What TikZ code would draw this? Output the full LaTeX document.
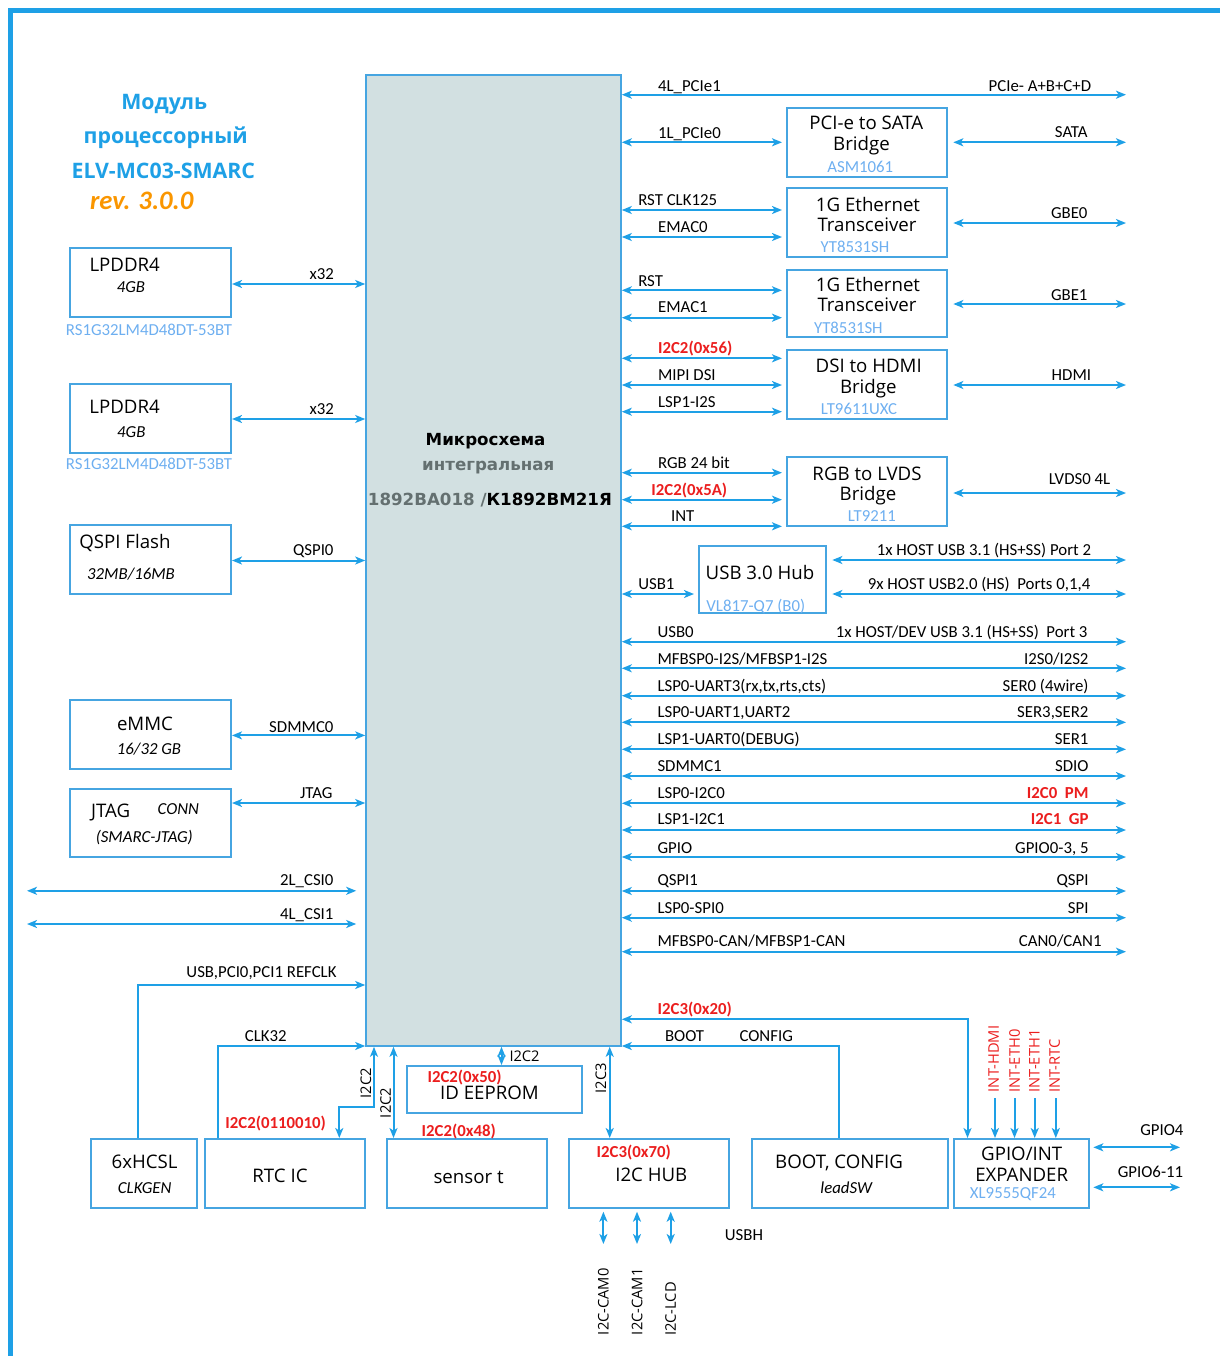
\documentclass[tikz,border=0pt]{standalone}
\usepackage{fontspec}
\setmainfont{Carlito}
\newfontfamily\boxfont{Open Sans}
\newfontfamily\chipfont{DejaVu Sans}
\usetikzlibrary{arrows.meta,fit}

\definecolor{lblue}{RGB}{30,160,230}
\definecolor{bblue}{RGB}{70,165,225}
\definecolor{pblue}{RGB}{110,175,240}
\definecolor{lred}{RGB}{235,30,30}
\definecolor{lorange}{RGB}{250,150,0}
\definecolor{chipfill}{RGB}{210,224,225}
\definecolor{chipgray}{RGB}{100,112,112}

\tikzset{every picture/.style={line width=0.75pt},
  bus/.style={draw=lblue, line width=1.5pt, {Stealth[length=7.5pt,width=6pt,inset=2pt]}-{Stealth[length=7.5pt,width=6pt,inset=2pt]}},
  feed/.style={draw=lblue, line width=1.5pt, -{Stealth[length=7.5pt,width=6pt,inset=2pt]}},
  blk/.style={draw=bblue, line width=1.5pt, inner sep=0pt},
  chipbox/.style={draw=bblue, fill=chipfill, line width=1.2pt, inner sep=0pt},
  lbl/.style={inner sep=0pt, text height=8.1pt, text depth=0pt, font=\fontsize{12.6}{15}\selectfont},
  redlbl/.style={lbl, text=lred, font=\fontsize{12.6}{15}\selectfont\bfseries},
  sub/.style={lbl, font=\fontsize{12.6}{15}\selectfont\itshape},
  part/.style={lbl, text=pblue},
  ttl/.style={inner sep=0pt, text height=10pt, text depth=0pt, font=\boxfont\fontsize{14}{16}\selectfont},
  vlbl/.style={inner sep=0pt, rotate=90, text height=7.9pt, text depth=0pt, font=\boxfont\fontsize{11}{13}\selectfont},
  chiptxt/.style={inner sep=0pt, font=\chipfont\bfseries\fontsize{12.5}{15}\selectfont},
  head/.style={inner sep=0pt, text=lblue, font=\boxfont\bfseries\fontsize{16}{19}\selectfont},
}

\begin{document}
\begin{tikzpicture}[x=0.75pt,y=0.75pt,yscale=-1]
\useasboundingbox (0,0) rectangle (1220,1356);

%Frame
\draw [color=lblue, line width=3.75pt] (10,1356) -- (10,10) -- (1220,10) ;

%Title
\node [head] (hd1) at (164.3,104) {Модуль};
\node [head] (hd2) at (165.7,137.7) {процессорный};
\node [head] (hd3) at (163.3,171) {ELV-MC03-SMARC};
\node [inner sep=0pt, text=lorange, font=\fontsize{20}{24}\selectfont\bfseries\itshape] (hd4) at (141.7,201) {rev. 3.0.0};

%Chip
\node [chipbox, fit={(366,75) (621,1046)}] (chip) {};
\node [chiptxt] (chip1) at (485.6,440.7) {Микросхема};
\node [chiptxt, text=chipgray] (chip2) at (488.3,467.9) {интегральная};
\node [chiptxt] (chip3) at (489.9,500.4) {\textcolor{chipgray}{1892ВА018 /}К1892ВМ21Я};

%Left blocks
\node [blk, fit={(70,248) (231,317)}] (ddr1) {};
\node [ttl] (ddr1a) at (124.7,265) {LPDDR4};
\node [sub] (ddr1b) at (131,287) {4GB};
\node [part] (ddr1c) at (149,330) {RS1G32LM4D48DT-53BT};

\node [blk, fit={(70,384) (231,453)}] (ddr2) {};
\node [ttl] (ddr2a) at (124.6,406.6) {LPDDR4};
\node [sub] (ddr2b) at (131.3,432.3) {4GB};
\node [part] (ddr2c) at (149,464) {RS1G32LM4D48DT-53BT};

\node [blk, fit={(70,525) (231,594)}] (flash) {};
\node [ttl] (flasha) at (125,541.4) {QSPI Flash};
\node [sub] (flashb) at (131,574) {32MB/16MB};

\node [blk, fit={(70,700) (231,769)}] (emmc) {};
\node [ttl] (emmca) at (145,724) {eMMC};
\node [sub] (emmcb) at (149,749) {16/32 GB};

\node [blk, fit={(70,789) (231,857)}] (jtag) {};
\node [ttl] (jtaga) at (110.7,811) {JTAG};
\node [sub] (jtagb) at (178.3,809) {CONN};
\node [sub] (jtagc) at (144.3,837) {(SMARC-JTAG)};

%Left links
\draw [bus] (ddr1.east |- 0,284) -- (chip.west |- 0,284) ;
\node [lbl, anchor=east] (l1) at (334.5,274) {x32};
\draw [bus] (ddr2.east |- 0,419) -- (chip.west |- 0,419) ;
\node [lbl, anchor=east] (l2) at (334.5,408.6) {x32};
\draw [bus] (flash.east |- 0,560.5) -- (chip.west |- 0,560.5) ;
\node [lbl, anchor=east] (l3) at (334,550) {QSPI0};
\draw [bus] (emmc.east |- 0,735.4) -- (chip.west |- 0,735.4) ;
\node [lbl, anchor=east] (l4) at (334,727) {SDMMC0};
\draw [bus] (jtag.east |- 0,803) -- (chip.west |- 0,803) ;
\node [lbl, anchor=east] (l5) at (333,793) {JTAG};

\coordinate (lft) at (27,0);
\draw [bus] (lft |- 0,890.8) -- ([xshift=-6.75pt]chip.west |- 0,890.8) ;
\node [lbl, anchor=east] (l6) at (334,880) {2L\_CSI0};
\draw [bus] (lft |- 0,924) -- ([xshift=-6.75pt]chip.west |- 0,924) ;
\node [lbl, anchor=east] (l7) at (334,914) {4L\_CSI1};

%Right blocks
\node [blk, fit={(787,108) (947,177)}] (sata) {};
\node [ttl] (sataa) at (866.3,122.7) {PCI-e to SATA};
\node [ttl] (satab) at (861.5,144) {Bridge};
\node [part] (satac) at (860.3,166.7) {ASM1061};

\node [blk, fit={(787,188) (947,257)}] (eth0) {};
\node [ttl] (eth0a) at (868,205) {1G Ethernet};
\node [ttl] (eth0b) at (867,225) {Transceiver};
\node [part] (eth0c) at (855,246.7) {YT8531SH};

\node [blk, fit={(787,270) (947,337)}] (eth1) {};
\node [ttl] (eth1a) at (868,285) {1G Ethernet};
\node [ttl] (eth1b) at (867,305) {Transceiver};
\node [part] (eth1c) at (848.4,328.3) {YT8531SH};

\node [blk, fit={(787,350) (947,419)}] (hdmi) {};
\node [ttl] (hdmia) at (868.7,365.7) {DSI to HDMI};
\node [ttl] (hdmib) at (868.3,386.7) {Bridge};
\node [part] (hdmic) at (859,409) {LT9611UXC};

\node [blk, fit={(787,457) (947,526)}] (lvds) {};
\node [ttl] (lvdsa) at (867,474) {RGB to LVDS};
\node [ttl] (lvdsb) at (868,494) {Bridge};
\node [part] (lvdsc) at (871.9,515.7) {LT9211};

\node [blk, fit={(699,546) (826,613)}] (usbhub) {};
\node [ttl] (usbhuba) at (760,573.3) {USB 3.0 Hub};
\node [part] (usbhubb) at (755.8,605.7) {VL817-Q7 (B0)};

%Right links to blocks
\coordinate (rgt) at (1126,0);
\draw [bus] (chip.east |- 0,94.7) -- (rgt |- 0,94.7) ;
\node [lbl, anchor=west] (r1) at (657.6,86) {4L\_PCIe1};
\node [lbl, anchor=east] (r1b) at (1091.6,86) {PCIe- A+B+C+D};

\draw [bus] (chip.east |- 0,142.3) -- ([xshift=-3pt]sata.west |- 0,142.3) ;
\node [lbl, anchor=west] (r2) at (657.6,132.7) {1L\_PCIe0};
\draw [bus] ([xshift=4pt]sata.east |- 0,142.3) -- (rgt |- 0,142.3) ;
\node [lbl, anchor=east] (r2b) at (1088,132) {SATA};

\draw [bus] (chip.east |- 0,210) -- ([xshift=-3pt]eth0.west |- 0,210) ;
\node [lbl, anchor=west] (r3) at (637.8,200) {RST CLK125};
\draw [bus] (chip.east |- 0,237) -- ([xshift=-3pt]eth0.west |- 0,237) ;
\node [lbl, anchor=west] (r4) at (657.6,226.7) {EMAC0};
\draw [bus] ([xshift=4pt]eth0.east |- 0,223) -- (rgt |- 0,223) ;
\node [lbl, anchor=east] (r4b) at (1088,212.7) {GBE0};

\draw [bus] (chip.east |- 0,290.3) -- ([xshift=-3pt]eth1.west |- 0,290.3) ;
\node [lbl, anchor=west] (r5) at (637.8,280.7) {RST};
\draw [bus] (chip.east |- 0,317.7) -- ([xshift=-3pt]eth1.west |- 0,317.7) ;
\node [lbl, anchor=west] (r6) at (657.6,307) {EMAC1};
\draw [bus] ([xshift=4pt]eth1.east |- 0,304) -- (rgt |- 0,304) ;
\node [lbl, anchor=east] (r6b) at (1088,294.7) {GBE1};

\draw [bus] (chip.east |- 0,358.3) -- ([xshift=-3pt]hdmi.west |- 0,358.3) ;
\node [redlbl, anchor=west] (r7) at (657.6,348.3) {I2C2(0x56)};
\draw [bus] (chip.east |- 0,385) -- ([xshift=-3pt]hdmi.west |- 0,385) ;
\node [lbl, anchor=west] (r8) at (657.6,375) {MIPI DSI};
\draw [bus] (chip.east |- 0,411.7) -- ([xshift=-3pt]hdmi.west |- 0,411.7) ;
\node [lbl, anchor=west] (r9) at (657.6,401.7) {LSP1-I2S};
\draw [bus] ([xshift=4pt]hdmi.east |- 0,385) -- (rgt |- 0,385) ;
\node [lbl, anchor=east] (r9b) at (1091.6,375) {HDMI};

\draw [bus] (chip.east |- 0,472.7) -- ([xshift=-3pt]lvds.west |- 0,472.7) ;
\node [lbl, anchor=west] (r10) at (657.6,462.7) {RGB 24 bit};
\draw [bus] (chip.east |- 0,499.7) -- ([xshift=-3pt]lvds.west |- 0,499.7) ;
\node [redlbl, anchor=west] (r11) at (650.9,490) {I2C2(0x5A)};
\draw [bus] (chip.east |- 0,526.3) -- ([xshift=-3pt]lvds.west |- 0,526.3) ;
\node [lbl] (r12) at (682.7,515.7) {INT};
\draw [bus] ([xshift=4pt]lvds.east |- 0,493) -- (rgt |- 0,493) ;
\node [lbl, anchor=east] (r12b) at (1110.7,479.3) {LVDS0 4L};

\draw [bus] (chip.east |- 0,594) -- ([xshift=-3pt]usbhub.west |- 0,594) ;
\node [lbl, anchor=west] (r13) at (637.8,584.3) {USB1};
\draw [bus] ([xshift=4pt]usbhub.east |- 0,560) -- (rgt |- 0,560) ;
\node [lbl, anchor=east] (r13b) at (1091.6,550) {1x HOST USB 3.1 (HS+SS) Port 2};
\draw [bus] ([xshift=4pt]usbhub.east |- 0,594) -- (rgt |- 0,594) ;
\node [lbl, anchor=east] (r13c) at (1090.8,584.3) {9x HOST USB2.0 (HS)\ \ Ports 0,1,4};

%Right direct lines
\draw [bus] (chip.east |- 0,641.7) -- (rgt |- 0,641.7) ;
\node [lbl, anchor=west] (s1) at (657,631.7) {USB0};
\node [lbl, anchor=east] (s1b) at (1088,631.7) {1x HOST/DEV USB 3.1 (HS+SS)\ \ Port 3};
\draw [bus] (chip.east |- 0,668.3) -- (rgt |- 0,668.3) ;
\node [lbl, anchor=west] (s2) at (657,659) {MFBSP0-I2S/MFBSP1-I2S};
\node [lbl, anchor=east] (s2b) at (1089,659) {I2S0/I2S2};
\draw [bus] (chip.east |- 0,695.7) -- (rgt |- 0,695.7) ;
\node [lbl, anchor=west] (s3) at (657,686) {LSP0-UART3(rx,tx,rts,cts)};
\node [lbl, anchor=east] (s3b) at (1089,686) {SER0 (4wire)};
\draw [bus] (chip.east |- 0,722.3) -- (rgt |- 0,722.3) ;
\node [lbl, anchor=west] (s4) at (657,712.3) {LSP0-UART1,UART2};
\node [lbl, anchor=east] (s4b) at (1089,712.3) {SER3,SER2};
\draw [bus] (chip.east |- 0,749.3) -- (rgt |- 0,749.3) ;
\node [lbl, anchor=west] (s5) at (657,739.3) {LSP1-UART0(DEBUG)};
\node [lbl, anchor=east] (s5b) at (1089,739.3) {SER1};
\draw [bus] (chip.east |- 0,776) -- (rgt |- 0,776) ;
\node [lbl, anchor=west] (s6) at (657,766) {SDMMC1};
\node [lbl, anchor=east] (s6b) at (1089,766) {SDIO};
\draw [bus] (chip.east |- 0,803.3) -- (rgt |- 0,803.3) ;
\node [lbl, anchor=west] (s7) at (657,792.7) {LSP0-I2C0};
\node [redlbl, anchor=east] (s7b) at (1089,792.7) {I2C0\ \ PM};
\draw [bus] (chip.east |- 0,830) -- (rgt |- 0,830) ;
\node [lbl, anchor=west] (s8) at (657,819.3) {LSP1-I2C1};
\node [redlbl, anchor=east] (s8b) at (1089,819.3) {I2C1\ \ GP};
\draw [bus] (chip.east |- 0,857) -- (rgt |- 0,857) ;
\node [lbl, anchor=west] (s9) at (657,847.7) {GPIO};
\node [lbl, anchor=east] (s9b) at (1089,847.7) {GPIO0-3, 5};
\draw [bus] (chip.east |- 0,891) -- (rgt |- 0,891) ;
\node [lbl, anchor=west] (s10) at (657,880) {QSPI1};
\node [lbl, anchor=east] (s10b) at (1089,880) {QSPI};
\draw [bus] (chip.east |- 0,917.7) -- (rgt |- 0,917.7) ;
\node [lbl, anchor=west] (s11) at (657,908.3) {LSP0-SPI0};
\node [lbl, anchor=east] (s11b) at (1089,908.3) {SPI};
\draw [bus] (chip.east |- 0,951.7) -- (rgt |- 0,951.7) ;
\node [lbl, anchor=west] (s12) at (657,941) {MFBSP0-CAN/MFBSP1-CAN};
\node [lbl, anchor=east] (s12b) at (1102,941) {CAN0/CAN1};

%Bottom blocks
\node [blk, fit={(407,1066) (582,1113)}] (eeprom) {};
\node [redlbl] (eeproma) at (464.6,1076.7) {I2C2(0x50)};
\node [ttl] (eepromb) at (489.5,1093.3) {ID EEPROM};

\node [blk, fit={(91,1139) (197,1208)}] (clkgen) {};
\node [ttl] (clkgena) at (144.7,1161.7) {6xHCSL};
\node [sub] (clkgenb) at (144.7,1188.3) {CLKGEN};

\node [blk, fit={(205,1139) (365,1208)}] (rtc) {};
\node [ttl] (rtca) at (280,1175.7) {RTC IC};

\node [blk, fit={(387,1139) (547,1208)}] (sensor) {};
\node [ttl] (sensora) at (468.6,1176.7) {sensor t};

\node [blk, fit={(569,1139) (729,1208)}] (hub) {};
\node [redlbl] (huba) at (633.7,1151.7) {I2C3(0x70)};
\node [ttl] (hubb) at (651.3,1175) {I2C HUB};

\node [blk, fit={(752,1139) (948,1208)}] (boot) {};
\node [ttl] (boota) at (839,1161.7) {BOOT, CONFIG};
\node [sub] (bootb) at (846.2,1188.3) {leadSW};

\node [blk, fit={(954,1139) (1089,1208)}] (gpio) {};
\node [ttl] (gpioa) at (1021.7,1154.3) {GPIO/INT};
\node [ttl] (gpiob) at (1021.7,1175) {EXPANDER};
\node [part] (gpioc) at (1012.9,1193.3) {XL9555QF24};

%Bottom links
\draw [feed] (clkgen.north -| 138,0) |- (chip.west |- 0,985) ;
\node [lbl, anchor=east] (b1) at (337,972.3) {USB,PCI0,PCI1 REFCLK};
\draw [feed] (rtc.north -| 218,0) |- (chip.west |- 0,1046) ;
\node [lbl] (b2) at (265.7,1036) {CLK32};
\node [redlbl] (b3) at (275.6,1123.3) {I2C2(0110010)};

\draw [bus] (chip.south -| 374,0) -- ++(0,60) -| (rtc.north -| 339.3,0) ;
\node [vlbl] (b4) at (365.8,1083.3) {I2C2};
\draw [bus] (chip.south -| 393.5,0) -- (sensor.north -| 393.5,0) ;
\node [vlbl] (b5) at (385.5,1103) {I2C2};
\node [redlbl] (b6) at (458.7,1130.7) {I2C2(0x48)};
\draw [bus] (chip.south -| 501.5,0) -- (eeprom.north -| 501.5,0) ;
\node [inner sep=0pt, anchor=west, font=\boxfont\fontsize{11}{13}\selectfont] (b7) at (509,1056) {I2C2};
\draw [bus] (chip.south -| 609.7,0) -- (hub.north -| 609.7,0) ;
\node [vlbl] (b8) at (600.8,1078.3) {I2C3};

\draw [bus] (chip.east |- 0,1019.3) -| (gpio.north -| 967.5,0) ;
\node [redlbl] (b9) at (694.7,1009) {I2C3(0x20)};
\draw [feed] (boot.north -| 839,0) |- (chip.east |- 0,1046) ;
\node [lbl] (b10) at (684.6,1035.7) {BOOT};
\node [lbl] (b11) at (766.2,1035.7) {CONFIG};

%Interrupts
\node [vlbl, text=lred] (i1) at (993.5,1059) {INT-HDMI};
\node [vlbl, text=lred] (i2) at (1014.5,1061) {INT-ETH0};
\node [vlbl, text=lred] (i3) at (1034.3,1061) {INT-ETH1};
\node [vlbl, text=lred] (i4) at (1054.5,1066) {INT-RTC};
\draw [feed] (995,1098.3) -- (gpio.north -| 995,0) ;
\draw [feed] (1014.5,1098.3) -- (gpio.north -| 1014.5,0) ;
\draw [feed] (1034.7,1098.3) -- (gpio.north -| 1034.7,0) ;
\draw [feed] (1055.8,1098.3) -- (gpio.north -| 1055.8,0) ;

\coordinate (gend) at (1180,0);
\draw [bus] ([xshift=2.5pt]gpio.east |- 0,1147.3) -- (gend |- 0,1147.3) ;
\node [lbl] (g1) at (1161.9,1130) {GPIO4};
\draw [bus] ([xshift=2.5pt]gpio.east |- 0,1187.3) -- (gend |- 0,1187.3) ;
\node [lbl] (g2) at (1150.5,1171.7) {GPIO6-11};

%Hub outputs
\node [vlbl] (h1) at (603.4,1301.7) {I2C-CAM0};
\node [vlbl] (h2) at (637,1301.7) {I2C-CAM1};
\node [vlbl] (h3) at (670.7,1309) {I2C-LCD};
\draw [bus] (h1 |- 0,1211.7) -- (h1 |- 0,1244) ;
\draw [bus] (h2 |- 0,1211.7) -- (h2 |- 0,1244) ;
\draw [bus] (h3 |- 0,1211.7) -- (h3 |- 0,1244) ;
\node [lbl] (h4) at (744,1235) {USBH};

\end{tikzpicture}
\end{document}
